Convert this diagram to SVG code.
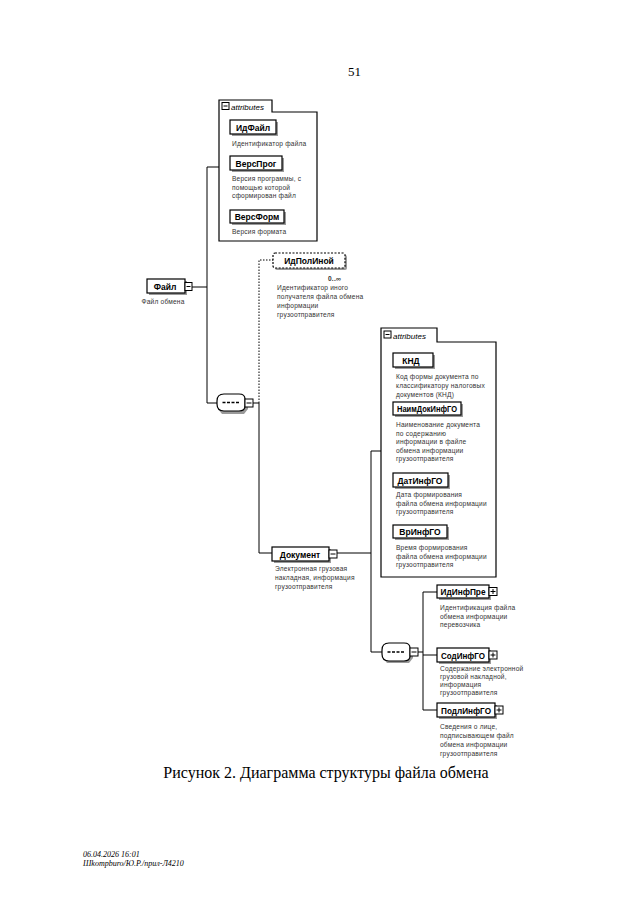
<svg xmlns="http://www.w3.org/2000/svg" width="640" height="905" viewBox="0 0 640 905">
<style>
.bg{fill:#ffffff}
.ln{stroke:#000;stroke-width:1;fill:none}
.dl{stroke:#000;stroke-width:1;fill:none;stroke-dasharray:1.5 1.5}
.box{fill:#fff;stroke:#000;stroke-width:1.2}
.dbox{fill:#fff;stroke:#000;stroke-width:1.2;stroke-dasharray:2 1.5}
.sh{fill:#9a9a9a}
.lbl{font-family:"Liberation Sans",Arial,sans-serif;font-size:8.5px;font-weight:bold;fill:#000;text-anchor:middle}
.desc{font-family:"Liberation Sans",Arial,sans-serif;font-size:6.6px;fill:#333;letter-spacing:0.2px}
.att{font-family:"Liberation Sans",Arial,sans-serif;font-size:8px;font-style:italic;fill:#000}
.ic{fill:#fff;stroke:#000;stroke-width:1}
.dash{stroke:#000;stroke-width:1.4;fill:none;stroke-dasharray:3 1.5}
.page{font-family:"Liberation Serif","Times New Roman",serif;fill:#000}
</style>
<rect class="bg" x="0" y="0" width="640" height="905"/>
<text class="page" x="348" y="76" font-size="13">51</text>

<g id="connectors">
  <path class="ln" d="M192,287 H207 M207,167 V403 M207,167 H219 M207,403 H217"/>
  <path class="ln" d="M253,403 H259 M259,403 V553 H272"/>
  <path class="dl" d="M259,403 V260 H273"/>
  <path class="ln" d="M337,553 H371 M371,451 V652 M371,451 H381 M371,652 H382"/>
  <path class="ln" d="M418,652 H423 M423,592 V710 M423,592 H437 M423,655 H437 M423,710 H437"/>
</g>

<g id="attributes1">
  <path class="box" d="M219,241 V100 H272 V112 H317 V241 Z"/>
  <rect class="ic" x="222" y="102.5" width="7" height="7"/>
  <path class="ln" d="M223.5,106 H227.5"/>
  <text class="att" x="231" y="109.5">attributes</text>
</g>
<g id="IdFajl">
  <rect class="sh" x="232" y="122" width="46" height="14"/>
  <rect class="box" x="230" y="120" width="46" height="14"/>
  <text class="lbl" x="253" y="130.5">ИдФайл</text>
  <text class="desc" x="232" y="146">Идентификатор файла</text>
</g>
<g id="VersProg">
  <rect class="sh" x="232" y="158" width="52" height="14"/>
  <rect class="box" x="230" y="156" width="52" height="14"/>
  <text class="lbl" x="256" y="166.5">ВерсПрог</text>
  <text class="desc" x="232" y="181">Версия программы, с</text>
  <text class="desc" x="232" y="189.5">помощью которой</text>
  <text class="desc" x="232" y="198">сформирован файл</text>
</g>
<g id="VersForm">
  <rect class="sh" x="232" y="212" width="54" height="13"/>
  <rect class="box" x="230" y="210" width="54" height="13"/>
  <text class="lbl" x="257" y="220">ВерсФорм</text>
  <text class="desc" x="232" y="234">Версия формата</text>
</g>

<g id="Fajl">
  <rect class="sh" x="149" y="281" width="38" height="14"/>
  <rect class="box" x="147" y="279" width="38" height="14"/>
  <rect class="ic" x="185" y="282.5" width="7" height="8"/>
  <path class="ln" d="M186.5,286.5 H190.5"/>
  <text class="lbl" x="165" y="289.5">Файл</text>
  <text class="desc" x="163" y="304" text-anchor="middle">Файл обмена</text>
</g>

<g id="seq1">
  <path class="sh" d="M222,397 H244 L248,402 V409 L244,414 H222 L218,409 V402 Z"/>
  <path class="box" d="M224,394 H239 Q245,394 245,399 V406 Q245,411 239,411 H224 Q217,411 217,404 V401 Q217,394 224,394 Z"/>
  <path class="dash" d="M222.5,402.5 H240"/>
  <rect class="ic" x="245" y="399" width="8" height="8"/>
  <path class="ln" d="M246.5,403 H251.5"/>
</g>

<g id="IdPolInoj">
  <rect class="sh" x="275" y="255" width="72" height="15" rx="2"/>
  <rect class="dbox" x="273" y="253" width="72" height="15" rx="2"/>
  <text class="lbl" x="309" y="264">ИдПолИной</text>
  <text class="desc" x="328" y="281" font-weight="bold" font-size="7.5">0..∞</text>
  <text class="desc" x="277" y="290">Идентификатор иного</text>
  <text class="desc" x="277" y="299">получателя файла обмена</text>
  <text class="desc" x="277" y="308">информации</text>
  <text class="desc" x="277" y="317">грузоотправителя</text>
</g>

<g id="Dokument">
  <rect class="sh" x="274" y="549" width="57" height="14"/>
  <rect class="box" x="272" y="547" width="57" height="14"/>
  <rect class="ic" x="329" y="550" width="8" height="8"/>
  <path class="ln" d="M330.5,554 H335.5"/>
  <text class="lbl" x="300" y="557.5">Документ</text>
  <text class="desc" x="275" y="571">Электронная грузовая</text>
  <text class="desc" x="275" y="580">накладная, информация</text>
  <text class="desc" x="275" y="589">грузоотправителя</text>
</g>

<g id="attributes2">
  <path class="box" d="M381,577 V328 H437 V342 H496 V577 Z"/>
  <rect class="ic" x="384" y="331" width="7" height="7"/>
  <path class="ln" d="M385.5,334.5 H389.5"/>
  <text class="att" x="393" y="338.5">attributes</text>
</g>
<g id="KND">
  <rect class="sh" x="395" y="355" width="40" height="14"/>
  <rect class="box" x="393" y="353" width="40" height="14"/>
  <text class="lbl" x="411" y="363.5">КНД</text>
  <text class="desc" x="396" y="379">Код формы документа по</text>
  <text class="desc" x="396" y="388">классификатору налоговых</text>
  <text class="desc" x="396" y="397">документов (КНД)</text>
</g>
<g id="NaimDokInfGO">
  <rect class="sh" x="395" y="404" width="68" height="13"/>
  <rect class="box" x="393" y="402" width="68" height="13"/>
  <text class="lbl" x="427" y="412" textLength="60" lengthAdjust="spacingAndGlyphs">НаимДокИнфГО</text>
  <text class="desc" x="396" y="427">Наименование документа</text>
  <text class="desc" x="396" y="435.5">по содержанию</text>
  <text class="desc" x="396" y="444">информации в файле</text>
  <text class="desc" x="396" y="452.5">обмена информации</text>
  <text class="desc" x="396" y="461">грузоотправителя</text>
</g>
<g id="DatInfGO">
  <rect class="sh" x="395" y="475" width="55" height="14"/>
  <rect class="box" x="393" y="473" width="55" height="14"/>
  <text class="lbl" x="420" y="483.5">ДатИнфГО</text>
  <text class="desc" x="396" y="497">Дата формирования</text>
  <text class="desc" x="396" y="505.5">файла обмена информации</text>
  <text class="desc" x="396" y="514">грузоотправителя</text>
</g>
<g id="VrInfGO">
  <rect class="sh" x="395" y="527" width="54" height="13"/>
  <rect class="box" x="393" y="525" width="54" height="13"/>
  <text class="lbl" x="420" y="535">ВрИнфГО</text>
  <text class="desc" x="396" y="550">Время формирования</text>
  <text class="desc" x="396" y="558.5">файла обмена информации</text>
  <text class="desc" x="396" y="567">грузоотправителя</text>
</g>

<g id="seq2">
  <path class="sh" d="M387,646 H409 L413,651 V658 L409,663 H387 L383,658 V651 Z"/>
  <path class="box" d="M389,643 H404 Q410,643 410,648 V656 Q410,661 404,661 H389 Q382,661 382,654 V650 Q382,643 389,643 Z"/>
  <path class="dash" d="M387.5,652 H405"/>
  <rect class="ic" x="410" y="648" width="8" height="8"/>
  <path class="ln" d="M411.5,652 H416.5"/>
</g>

<g id="IdInfPre">
  <rect class="sh" x="439" y="587" width="52" height="13"/>
  <rect class="box" x="437" y="585" width="52" height="13"/>
  <rect class="ic" x="489" y="587.5" width="8" height="8"/>
  <path class="ln" d="M490.5,591.5 H495.5 M493,589 V594"/>
  <text class="lbl" x="463" y="595" textLength="45" lengthAdjust="spacingAndGlyphs">ИдИнфПре</text>
  <text class="desc" x="440" y="610">Идентификация файла</text>
  <text class="desc" x="440" y="618.5">обмена информации</text>
  <text class="desc" x="440" y="627">перевозчика</text>
</g>
<g id="SodInfGO">
  <rect class="sh" x="439" y="650" width="52" height="14"/>
  <rect class="box" x="437" y="648" width="52" height="14"/>
  <rect class="ic" x="489" y="651" width="8" height="8"/>
  <path class="ln" d="M490.5,655 H495.5 M493,652.5 V657.5"/>
  <text class="lbl" x="463" y="658.5" textLength="44" lengthAdjust="spacingAndGlyphs">СодИнфГО</text>
  <text class="desc" x="440" y="671">Содержание электронной</text>
  <text class="desc" x="440" y="679">грузовой накладной,</text>
  <text class="desc" x="440" y="687">информация</text>
  <text class="desc" x="440" y="695">грузоотправителя</text>
</g>
<g id="PodlInfGO">
  <rect class="sh" x="439" y="705" width="58" height="14"/>
  <rect class="box" x="437" y="703" width="58" height="14"/>
  <rect class="ic" x="495" y="706" width="8" height="8"/>
  <path class="ln" d="M496.5,710 H501.5 M499,707.5 V712.5"/>
  <text class="lbl" x="466" y="713.5" textLength="50" lengthAdjust="spacingAndGlyphs">ПодлИнфГО</text>
  <text class="desc" x="440" y="729">Сведения о лице,</text>
  <text class="desc" x="440" y="738">подписывающем файл</text>
  <text class="desc" x="440" y="747">обмена информации</text>
  <text class="desc" x="440" y="756">грузоотправителя</text>
</g>

<text class="page" x="326" y="778" font-size="16" text-anchor="middle">Рисунок 2. Диаграмма структуры файла обмена</text>
<text class="page" x="83" y="857" font-size="8" font-style="italic">06.04.2026 16:01</text>
<text class="page" x="83" y="866" font-size="8" font-style="italic">Шkompburo/Ю.Р./прил-Л4210</text>
</svg>
